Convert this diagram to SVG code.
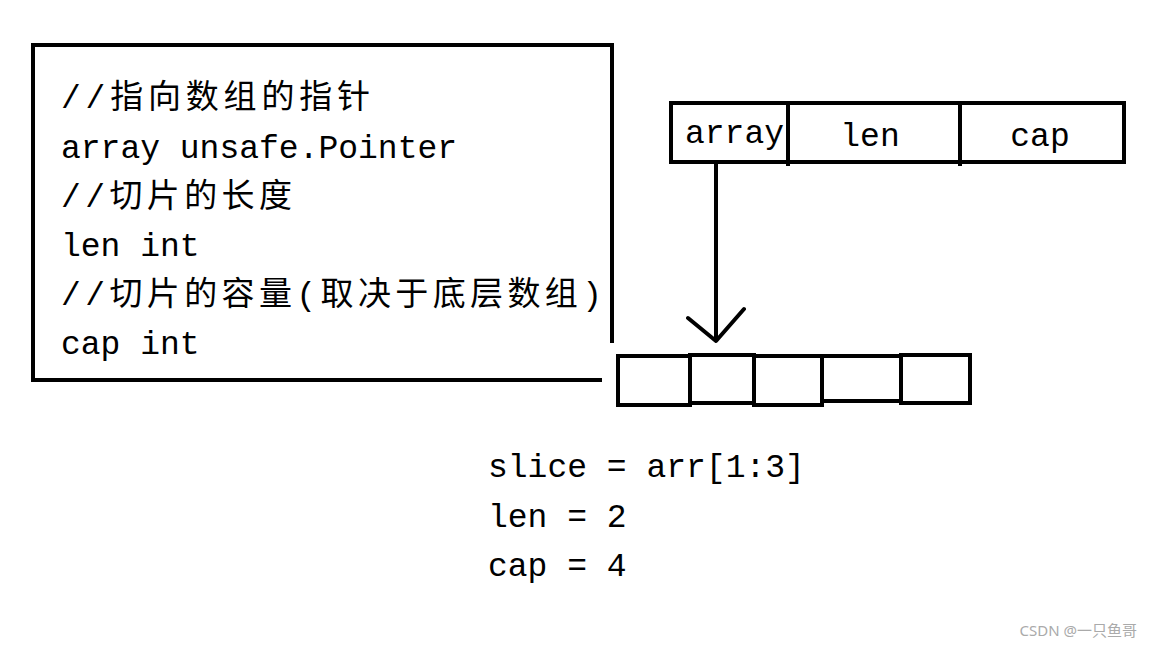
<svg xmlns="http://www.w3.org/2000/svg" width="1152" height="648" viewBox="0 0 1152 648">
<style>
.t{font-family:"Liberation Mono","Noto Sans CJK SC",monospace;font-size:33px;fill:#000}
.s{fill:none;stroke:#000;stroke-width:4}
</style>
<rect width="1152" height="648" fill="#fff"/>
<g id="def">
<path class="s" d="M612,343 V45 H33 V380 H602"/>
<text class="t" x="61" y="108" textLength="309">//指向数组的指针</text>
<text class="t" x="61" y="158">array unsafe.Pointer</text>
<text class="t" x="61" y="207" textLength="231">//切片的长度</text>
<text class="t" x="61" y="256">len   int</text>
<text class="t" x="61" y="305" textLength="541">//切片的容量(取决于底层数组)</text>
<text class="t" x="61" y="354">cap   int</text>
</g>
<g id="header">
<rect class="s" x="671" y="103" width="453" height="59"/>
<line class="s" x1="788" y1="103" x2="788" y2="166"/>
<line class="s" x1="960" y1="103" x2="960" y2="166"/>
<text class="t" x="685" y="143">array</text>
<text class="t" x="870" y="146" text-anchor="middle">len</text>
<text class="t" x="1040" y="146" text-anchor="middle">cap</text>
</g>
<g id="arr">
<rect class="s" x="618" y="356" width="72" height="49"/>
<rect class="s" x="690" y="355" width="64" height="48"/>
<rect class="s" x="754" y="356" width="68" height="49"/>
<rect class="s" x="822" y="356" width="79" height="45"/>
<rect class="s" x="901" y="355" width="69" height="48"/>
</g>
<g id="connectors">
<path class="s" d="M716,162 V340 M688,318 L716,341 L744,309" stroke-linecap="round" stroke-linejoin="round"/>
</g>
<g id="code">
<text class="t" x="488" y="477">slice = arr[1:3]</text>
<text class="t" x="488" y="527">len = 2</text>
<text class="t" x="488" y="576">cap = 4</text>
</g>
<text x="1137" y="636" text-anchor="end" font-family="'Noto Sans','Noto Sans CJK SC',sans-serif" font-size="15" fill="#aaa">CSDN @一只鱼哥</text>
</svg>
